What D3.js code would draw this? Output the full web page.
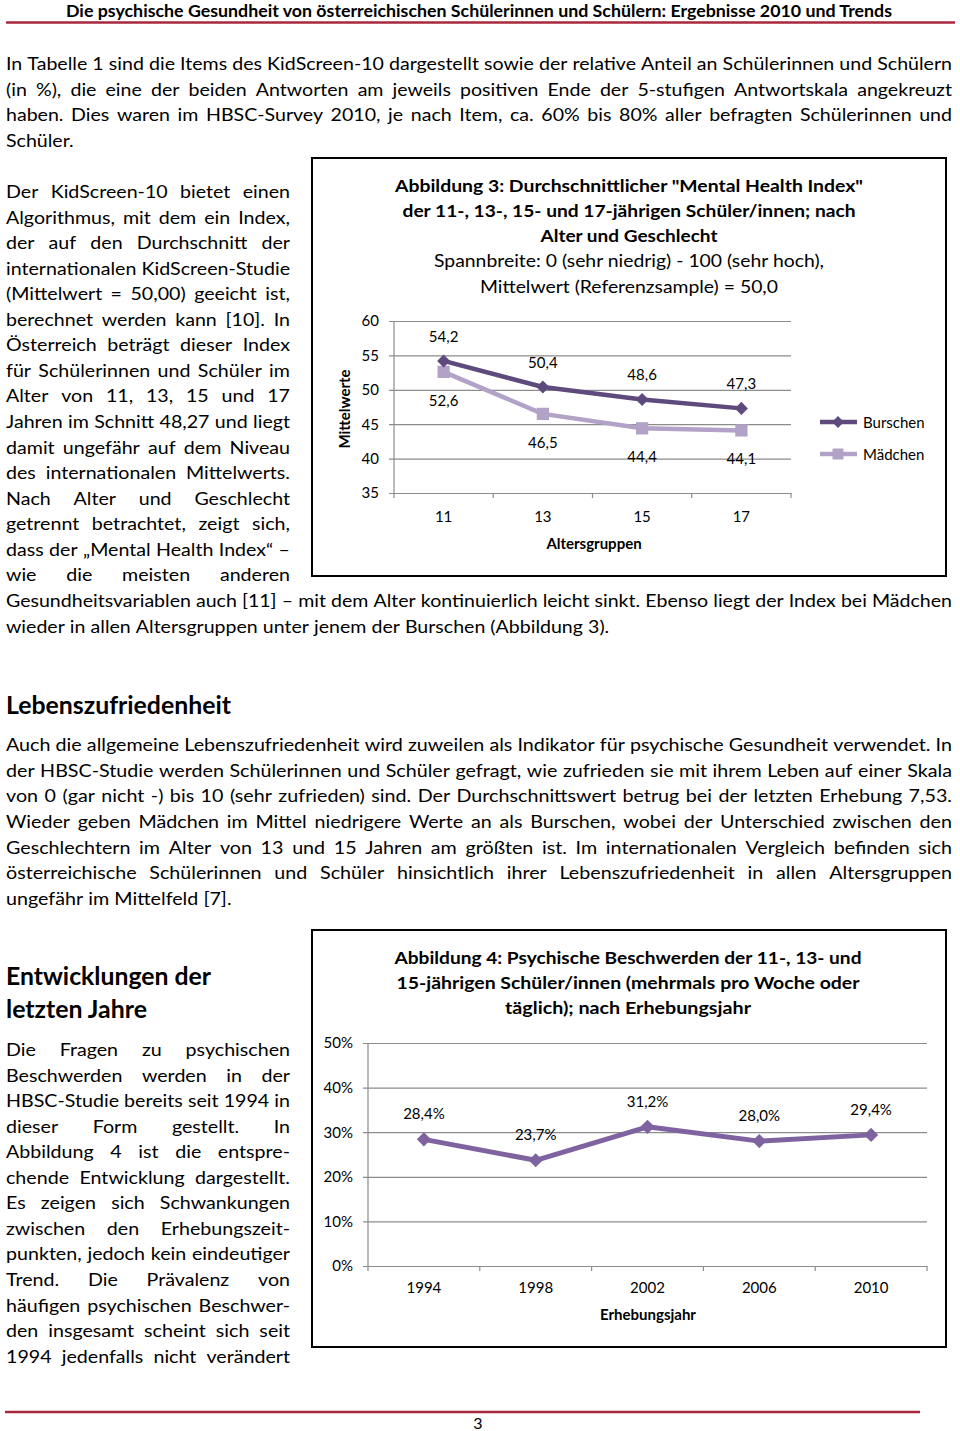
<!DOCTYPE html>
<html><head><meta charset="utf-8">
<script src="https://cdn.jsdelivr.net/npm/d3@7"></script>
<style>
html,body{margin:0;padding:0;background:#fff}
svg{display:block}
</style></head>
<body>
<div id="page"></div>
<script>
// ---------- DATA ----------
const ageGroups = ["11", "13", "15", "17"];
const burschen = [54.2, 50.4, 48.6, 47.3];
const maedchen = [52.6, 46.5, 44.4, 44.1];
const mhiTicks = [35, 40, 45, 50, 55, 60];
const seriesNames1 = ["Burschen", "Mädchen"];

const years = ["1994", "1998", "2002", "2006", "2010"];
const beschwerden = [28.4, 23.7, 31.2, 28.0, 29.4];
const pctTicks = [0, 10, 20, 30, 40, 50];

const headerText = "Die psychische Gesundheit von österreichischen Schülerinnen und Schülern: Ergebnisse 2010 und Trends";
const title1Lines = ["Abbildung 3: Durchschnittlicher \"Mental Health Index\"", "der 11-, 13-, 15- und 17-jährigen Schüler/innen; nach", "Alter und Geschlecht"];
const subtitle1Lines = ["Spannbreite:  0 (sehr niedrig) - 100 (sehr hoch),", "Mittelwert (Referenzsample)  = 50,0"];
const title2Lines = ["Abbildung 4: Psychische Beschwerden der 11-, 13- und", "15-jährigen Schüler/innen (mehrmals  pro Woche oder", "täglich); nach Erhebungsjahr"];

const para1 = [
  "In Tabelle 1 sind die Items des KidScreen-10 dargestellt sowie der relative Anteil an Schülerinnen und Schülern",
  "(in %), die eine der beiden Antworten am jeweils positiven Ende der 5-stufigen Antwortskala angekreuzt",
  "haben. Dies waren im HBSC-Survey 2010, je nach Item, ca. 60% bis 80% aller befragten Schülerinnen und"
];
const para1Last = "Schüler.";
const col1 = [
  "Der KidScreen-10 bietet einen",
  "Algorithmus, mit dem ein Index,",
  "der auf den Durchschnitt der",
  "internationalen KidScreen-Studie",
  "(Mittelwert = 50,00) geeicht ist,",
  "berechnet werden kann [10]. In",
  "Österreich beträgt dieser Index",
  "für Schülerinnen und Schüler im",
  "Alter von 11, 13, 15 und 17",
  "Jahren im Schnitt 48,27 und liegt",
  "damit ungefähr auf dem Niveau",
  "des internationalen Mittelwerts.",
  "Nach Alter und Geschlecht",
  "getrennt betrachtet, zeigt sich,",
  "dass der „Mental Health Index“ –",
  "wie die meisten anderen"
];
const col1Full = "Gesundheitsvariablen auch [11] – mit dem Alter kontinuierlich leicht sinkt. Ebenso liegt der Index bei Mädchen";
const col1Last = "wieder in allen Altersgruppen unter jenem der Burschen (Abbildung 3).";
const heading2 = "Lebenszufriedenheit";
const para2 = [
  "Auch die allgemeine Lebenszufriedenheit wird zuweilen als Indikator für psychische Gesundheit verwendet. In",
  "der HBSC-Studie werden Schülerinnen und Schüler gefragt, wie zufrieden sie mit ihrem Leben auf einer Skala",
  "von 0 (gar nicht -) bis 10 (sehr zufrieden) sind. Der Durchschnittswert betrug bei der letzten Erhebung 7,53.",
  "Wieder geben Mädchen im Mittel niedrigere Werte an als Burschen, wobei der Unterschied zwischen den",
  "Geschlechtern im Alter von 13 und 15 Jahren am größten ist. Im internationalen Vergleich befinden sich",
  "österreichische Schülerinnen und Schüler hinsichtlich ihrer Lebenszufriedenheit in allen Altersgruppen"
];
const para2Last = "ungefähr im Mittelfeld [7].";
const heading3 = ["Entwicklungen der", "letzten Jahre"];
const col2 = [
  "Die Fragen zu psychischen",
  "Beschwerden werden in der",
  "HBSC-Studie bereits seit 1994 in",
  "dieser Form gestellt. In",
  "Abbildung 4 ist die entspre-",
  "chende Entwicklung dargestellt.",
  "Es zeigen sich Schwankungen",
  "zwischen den Erhebungszeit-",
  "punkten, jedoch kein eindeutiger",
  "Trend. Die Prävalenz von",
  "häufigen psychischen Beschwer-",
  "den insgesamt scheint sich seit",
  "1994 jedenfalls nicht verändert"
];
const pageNumber = "3";

// ---------- SETUP ----------
const FONT = "Lato, 'Open Sans', sans-serif";
const W = 960, H = 1431;
const svg = d3.select("#page").append("svg").attr("width", W).attr("height", H)
  .style("font-family", FONT);
svg.append("rect").attr("width", W).attr("height", H).attr("fill", "#fff");

const BODY = 18;
const SPACE = 0.26; // normal inter-word gap in em

function measureWords(g, str, size, weight) {
  const words = str.split(" ").filter(w => w.length);
  const nodes = words.map(w => g.append("text").attr("font-size", size)
    .attr("font-weight", weight).attr("fill", "#000").text(w));
  const widths = nodes.map(n => n.node().getComputedTextLength());
  return { words, nodes, widths };
}

// Justified block: a common horizontal glyph scale for all lines, extra gap spread between words.
function block(g, lines, x, y0, lh, width, opt = {}) {
  const size = opt.size || BODY, weight = opt.weight || "normal";
  const ms = lines.map(l => measureWords(g, l, size, weight));
  const scales = ms.map(m => width / (d3.sum(m.widths) + (m.words.length - 1) * SPACE * size));
  const s = opt.scale || d3.min(scales);
  ms.forEach((m, li) => {
    const y = y0 + li * lh;
    const n = m.words.length;
    const sum = d3.sum(m.widths) * s;
    const justify = !(opt.lastLoose && li === lines.length - 1);
    const gap = justify && n > 1 ? (width - sum) / (n - 1) : SPACE * size * s;
    let cx = x;
    m.nodes.forEach((nd, i) => {
      nd.attr("x", cx).attr("y", y)
        .attr("textLength", m.widths[i] * s).attr("lengthAdjust", "spacingAndGlyphs");
      cx += m.widths[i] * s + gap;
    });
  });
  return s;
}

function textFit(g, str, x, y, width, opt = {}) {
  const size = opt.size || BODY, weight = opt.weight || "normal";
  const t = g.append("text").attr("x", x).attr("y", y).attr("font-size", size)
    .attr("font-weight", weight).attr("fill", "#000").text(str);
  if (width) t.attr("textLength", width).attr("lengthAdjust", "spacingAndGlyphs");
  return t;
}

const txt = svg.append("g");
// header
textFit(txt, headerText, 66, 17, 826, { size: 17, weight: "bold" });
svg.append("line").attr("x1", 6).attr("x2", 955).attr("y1", 22.5).attr("y2", 22.5)
  .attr("stroke", "#a8283d").attr("stroke-width", 2.5);

// paragraph 1
const LH = 25.6;
const s1 = block(txt, para1, 6, 70, LH, 946);
block(txt, [para1Last], 6, 70 + 3 * LH, LH, 946, { scale: s1, lastLoose: true });

// left column 1
block(txt, col1, 6, 198, 25.55, 284);
const sF = block(txt, [col1Full], 6, 607, LH, 946);
block(txt, [col1Last], 6, 633, LH, 946, { scale: sF, lastLoose: true });

// Lebenszufriedenheit
textFit(txt, heading2, 6, 714, 225, { size: 24, weight: "bold" });
const s2 = block(txt, para2, 6, 751, 25.65, 946);
block(txt, [para2Last], 6, 751 + 6 * 25.65, 25.65, 946, { scale: s2, lastLoose: true });

// Entwicklungen
textFit(txt, heading3[0], 6, 985, 205, { size: 24, weight: "bold" });
textFit(txt, heading3[1], 6, 1018, 141, { size: 24, weight: "bold" });
block(txt, col2, 6, 1056, 25.55, 284);

// footer
svg.append("line").attr("x1", 5).attr("x2", 920).attr("y1", 1412).attr("y2", 1412)
  .attr("stroke", "#a8283d").attr("stroke-width", 2.5);
txt.append("text").attr("x", 478).attr("y", 1429).attr("text-anchor", "middle")
  .attr("font-size", 16).text(pageNumber);

// ---------- helpers for charts ----------
const GRID = "#8c8c8c";
function diamond(size) { return d3.symbol(d3.symbolSquare, size)(); }
function centeredFit(g, str, cx, y, width, opt) {
  textFit(g, str, cx - width / 2, y, width, opt);
}

// ---------- CHART 1 ----------
const c1 = svg.append("g");
c1.append("rect").attr("x", 312).attr("y", 158).attr("width", 634).attr("height", 418)
  .attr("fill", "none").attr("stroke", "#000").attr("stroke-width", 2);

const t1w = [468, 453, 177];
title1Lines.forEach((l, i) => centeredFit(c1, l, 629, 192 + i * 25.2, t1w[i], { size: 17, weight: "bold" }));
const s1w = [390, 298];
subtitle1Lines.forEach((l, i) => centeredFit(c1, l, 629, 267 + i * 25.6, s1w[i], { size: 17 }));

const x1 = d3.scaleBand().domain(ageGroups).range([394, 791]);
const y1 = d3.scaleLinear().domain([35, 60]).range([493, 321]);

const ax1 = c1.append("g").attr("transform", "translate(394,0)")
  .call(d3.axisLeft(y1).tickValues(mhiTicks).tickSize(-(791 - 394)).tickPadding(15).tickFormat(d3.format("d")));
ax1.select(".domain").remove();
ax1.selectAll(".tick line").attr("x1", -5).attr("stroke", GRID).attr("stroke-width", 1.2);
ax1.selectAll(".tick text").attr("font-size", 15).attr("font-family", FONT).attr("fill", "#000");
c1.append("line").attr("x1", 394).attr("x2", 394).attr("y1", y1(60)).attr("y2", y1(35))
  .attr("stroke", GRID).attr("stroke-width", 1.2);

const bx1 = c1.append("g").attr("transform", `translate(0,${y1(35)})`)
  .call(d3.axisBottom(x1).tickSize(0).tickPadding(18));
bx1.select(".domain").attr("stroke", GRID).attr("stroke-width", 1.2);
bx1.selectAll(".tick text").attr("font-size", 15).attr("font-family", FONT).attr("fill", "#000");
d3.range(ageGroups.length + 1).forEach(i => {
  const xx = x1.range()[0] + i * x1.step();
  c1.append("line").attr("x1", xx).attr("x2", xx).attr("y1", y1(35)).attr("y2", y1(35) + 5)
    .attr("stroke", GRID).attr("stroke-width", 1.2);
});

c1.append("text").attr("transform", "translate(350,409) rotate(-90)").attr("text-anchor", "middle")
  .attr("font-size", 15).attr("font-weight", "bold").text("Mittelwerte");
c1.append("text").attr("x", 594).attr("y", 549).attr("text-anchor", "middle")
  .attr("font-size", 15).attr("font-weight", "bold").text("Altersgruppen");

const cx1 = d => x1(d) + x1.bandwidth() / 2;
const line1 = d3.line().x((d, i) => cx1(ageGroups[i])).y(d => y1(d));
const COL_B = "#5f4a7d", COL_M = "#b3a2c7";

c1.append("path").datum(maedchen).attr("d", line1).attr("fill", "none")
  .attr("stroke", COL_M).attr("stroke-width", 4.5).attr("stroke-linejoin", "round");
c1.selectAll(".sqm").data(maedchen).enter().append("path")
  .attr("d", d3.symbol(d3.symbolSquare, 150)())
  .attr("transform", (d, i) => `translate(${cx1(ageGroups[i])},${y1(d)})`).attr("fill", COL_M);

c1.append("path").datum(burschen).attr("d", line1).attr("fill", "none")
  .attr("stroke", COL_B).attr("stroke-width", 4.5).attr("stroke-linejoin", "round");
c1.selectAll(".dmb").data(burschen).enter().append("path")
  .attr("d", diamond(85))
  .attr("transform", (d, i) => `translate(${cx1(ageGroups[i])},${y1(d)}) rotate(45)`).attr("fill", COL_B);

const fmt1 = d => d3.format(".1f")(d).replace(".", ",");
c1.selectAll(".lb").data(burschen).enter().append("text")
  .attr("x", (d, i) => cx1(ageGroups[i])).attr("y", d => y1(d) - 19)
  .attr("text-anchor", "middle").attr("font-size", 15).text(fmt1);
c1.selectAll(".lm").data(maedchen).enter().append("text")
  .attr("x", (d, i) => cx1(ageGroups[i])).attr("y", d => y1(d) + 34)
  .attr("text-anchor", "middle").attr("font-size", 15).text(fmt1);

// legend
const leg = c1.append("g");
[[COL_B, 422, "d"], [COL_M, 454, "s"]].forEach((o, i) => {
  leg.append("line").attr("x1", 820).attr("x2", 857).attr("y1", o[1]).attr("y2", o[1])
    .attr("stroke", o[0]).attr("stroke-width", 4.5);
  if (o[2] === "d") leg.append("path").attr("d", diamond(70)).attr("transform", `translate(838,${o[1]}) rotate(45)`).attr("fill", o[0]);
  else leg.append("path").attr("d", d3.symbol(d3.symbolSquare, 120)()).attr("transform", `translate(838,${o[1]})`).attr("fill", o[0]);
  leg.append("text").attr("x", 863).attr("y", o[1] + 5.5).attr("font-size", 15).text(seriesNames1[i]);
});

// ---------- CHART 2 ----------
const c2 = svg.append("g");
c2.append("rect").attr("x", 312).attr("y", 930).attr("width", 634).attr("height", 417)
  .attr("fill", "none").attr("stroke", "#000").attr("stroke-width", 2);
const t2w = [467, 463, 246];
title2Lines.forEach((l, i) => centeredFit(c2, l, 628, 964 + i * 25.2, t2w[i], { size: 17, weight: "bold" }));

const x2 = d3.scaleBand().domain(years).range([368, 927]);
const y2 = d3.scaleLinear().domain([0, 50]).range([1266, 1043]);

const ax2 = c2.append("g").attr("transform", "translate(368,0)")
  .call(d3.axisLeft(y2).tickValues(pctTicks).tickSize(-(927 - 368)).tickPadding(15).tickFormat(d => d + "%"));
ax2.select(".domain").remove();
ax2.selectAll(".tick line").attr("x1", -5).attr("stroke", GRID).attr("stroke-width", 1.2);
ax2.selectAll(".tick text").attr("font-size", 15).attr("font-family", FONT).attr("fill", "#000");
c2.append("line").attr("x1", 368).attr("x2", 368).attr("y1", y2(50)).attr("y2", y2(0))
  .attr("stroke", GRID).attr("stroke-width", 1.2);

const bx2 = c2.append("g").attr("transform", `translate(0,${y2(0)})`)
  .call(d3.axisBottom(x2).tickSize(0).tickPadding(16));
bx2.select(".domain").attr("stroke", GRID).attr("stroke-width", 1.2);
bx2.selectAll(".tick text").attr("font-size", 15).attr("font-family", FONT).attr("fill", "#000");
d3.range(years.length + 1).forEach(i => {
  const xx = x2.range()[0] + i * x2.step();
  c2.append("line").attr("x1", xx).attr("x2", xx).attr("y1", y2(0)).attr("y2", y2(0) + 5)
    .attr("stroke", GRID).attr("stroke-width", 1.2);
});
c2.append("text").attr("x", 648).attr("y", 1320).attr("text-anchor", "middle")
  .attr("font-size", 15).attr("font-weight", "bold").text("Erhebungsjahr");

const cx2 = d => x2(d) + x2.bandwidth() / 2;
const COL2 = "#7f63a1";
c2.append("path").datum(beschwerden)
  .attr("d", d3.line().x((d, i) => cx2(years[i])).y(d => y2(d)))
  .attr("fill", "none").attr("stroke", COL2).attr("stroke-width", 5).attr("stroke-linejoin", "round");
c2.selectAll(".d2").data(beschwerden).enter().append("path")
  .attr("d", diamond(100))
  .attr("transform", (d, i) => `translate(${cx2(years[i])},${y2(d)}) rotate(45)`).attr("fill", COL2);
c2.selectAll(".l2").data(beschwerden).enter().append("text")
  .attr("x", (d, i) => cx2(years[i])).attr("y", d => y2(d) - 20)
  .attr("text-anchor", "middle").attr("font-size", 15)
  .text(d => d3.format(".1f")(d).replace(".", ",") + "%");
</script>
</body></html>
